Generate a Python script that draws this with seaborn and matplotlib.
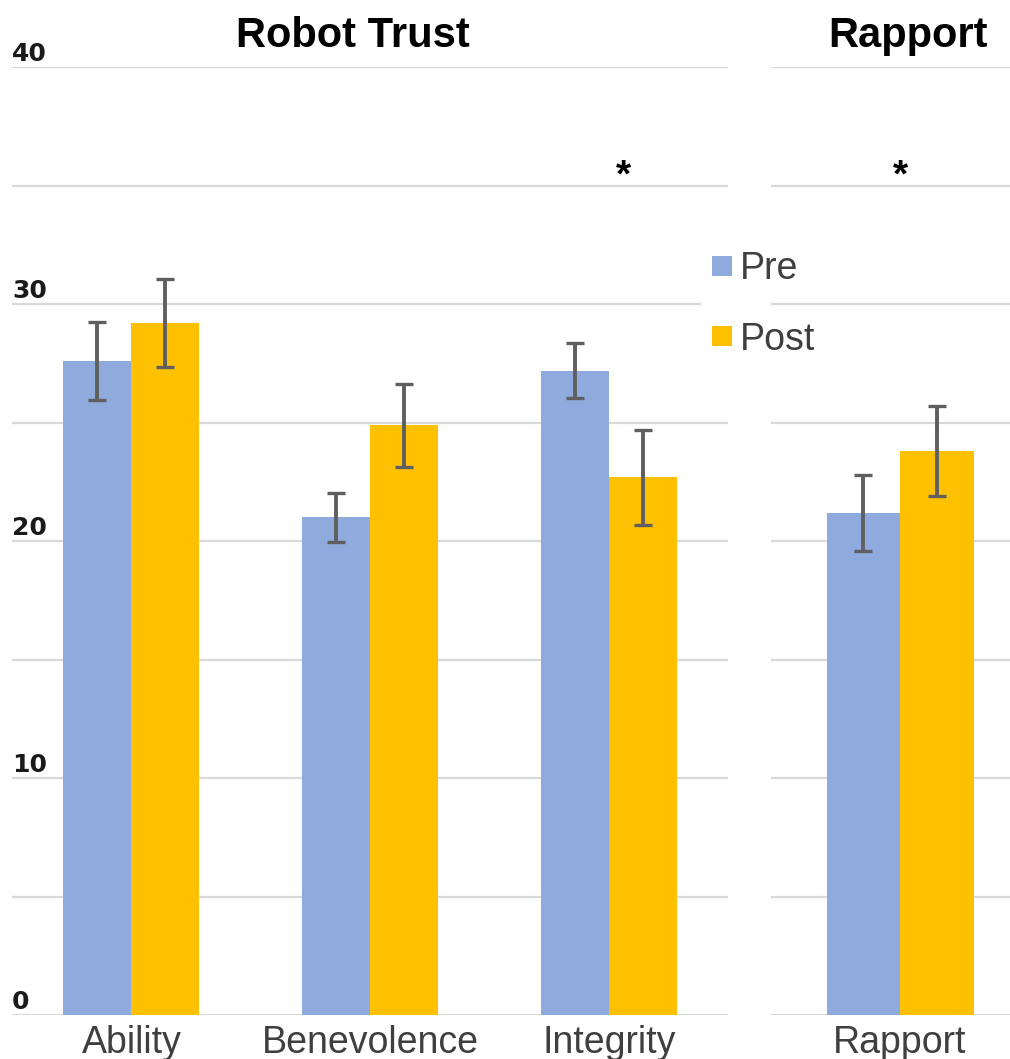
import matplotlib
matplotlib.use("Agg")
import matplotlib.pyplot as plt
from matplotlib.lines import Line2D
import seaborn as sns
import pandas as pd

# values
trust_items = ["Ability", "Benevolence", "Integrity"]
trust_pre = [27.6, 21.0, 27.2]
trust_post = [29.2, 24.9, 22.7]
trust_pre_err = [1.65, 1.05, 1.15]
trust_post_err = [1.85, 1.75, 2.0]

rapport_items = ["Rapport"]
rapport_pre = [21.2]
rapport_post = [23.8]
rapport_pre_err = [1.6]
rapport_post_err = [1.9]

phases = ["Pre", "Post"]
colors = ["#8FAADC", "#FFC000"]
y_labels = [0, 10, 20, 30, 40]
grid_ticks = [0, 5, 10, 15, 20, 25, 30, 35, 40]

sns.set_theme(style="white")
plt.rcParams["font.family"] = ["Liberation Sans", "DejaVu Sans"]


def long_form(items, pre, post):
    return pd.DataFrame({
        "item": items * 2,
        "phase": ["Pre"] * len(items) + ["Post"] * len(items),
        "score": list(pre) + list(post),
    })


def draw_panel(ax, df, errs, width):
    sns.barplot(data=df, x="item", y="score", hue="phase", hue_order=phases,
                palette=colors, width=width, errorbar=None, legend=False,
                saturation=1, linewidth=0, ax=ax)
    for cont, err in zip(ax.containers, errs):
        xs = [b.get_x() + b.get_width() / 2 for b in cont]
        ys = [b.get_height() for b in cont]
        ax.errorbar(xs, ys, yerr=err, fmt="none", ecolor="#5f5f5f",
                    elinewidth=2.8, capsize=6.5, capthick=2.4, zorder=5)
    ax.set_ylim(0, 40)
    ax.set_yticks(grid_ticks)
    ax.set_yticklabels([])
    ax.grid(axis="y", color="#d9d9d9", linewidth=1.6, zorder=0)
    ax.set_axisbelow(True)
    ax.tick_params(axis="both", length=0)
    ax.tick_params(axis="x", labelsize=27, labelcolor="#3f3f3f", pad=7)
    ax.set_xlabel("")
    ax.set_ylabel("")
    sns.despine(ax=ax, left=True, bottom=True, top=True, right=True)


fig = plt.figure(figsize=(10.10, 10.59), dpi=100)
ax1 = fig.add_axes([0.0119, 0.0415, 0.709, 0.895])
ax2 = fig.add_axes([0.7634, 0.0415, 0.2366, 0.895])
ax2.set_facecolor("none")

draw_panel(ax1, long_form(trust_items, trust_pre, trust_post),
           [trust_pre_err, trust_post_err], 0.57)
draw_panel(ax2, long_form(rapport_items, rapport_pre, rapport_post),
           [rapport_pre_err, rapport_post_err], 0.615)
ax1.set_xlim(-0.5, 2.5)
ax2.set_xlim(-0.54, 0.46)

# y labels sit just above their gridline
for v in y_labels:
    ax1.text(0.0, v + 0.05, str(v), transform=ax1.get_yaxis_transform(),
             ha="left", va="bottom", fontsize=18, fontweight="bold",
             family="DejaVu Sans", color="#1a1a1a")

# significance markers
ax1.text(2.06, 34.95, "*", ha="center", va="baseline", fontsize=28,
         fontweight="bold", color="black")
ax2.text(0.0, 34.95, "*", ha="center", va="baseline", fontsize=28,
         fontweight="bold", color="black")

fig.text(0.349, 0.966, "Robot Trust", ha="center", va="center",
         fontsize=30, fontweight="bold", color="black")
fig.text(0.899, 0.966, "Rapport", ha="center", va="center",
         fontsize=30, fontweight="bold", color="black")

handles = [Line2D([], [], marker="s", linestyle="none", markersize=15,
                  markerfacecolor=c, markeredgewidth=0) for c in colors]
leg = ax1.legend(handles, phases, loc="upper left",
                 bbox_to_anchor=(0.694, 0.770), bbox_transform=fig.transFigure,
                 fontsize=27, frameon=True, facecolor="white", edgecolor="none",
                 framealpha=1, fancybox=False, borderpad=0.2, handlelength=0.7,
                 handletextpad=0.15, labelspacing=0.92, borderaxespad=0)
for t in leg.get_texts():
    t.set_color("#3f3f3f")
leg.set_zorder(10)

fig.savefig("out.png", dpi=100, facecolor="white")
